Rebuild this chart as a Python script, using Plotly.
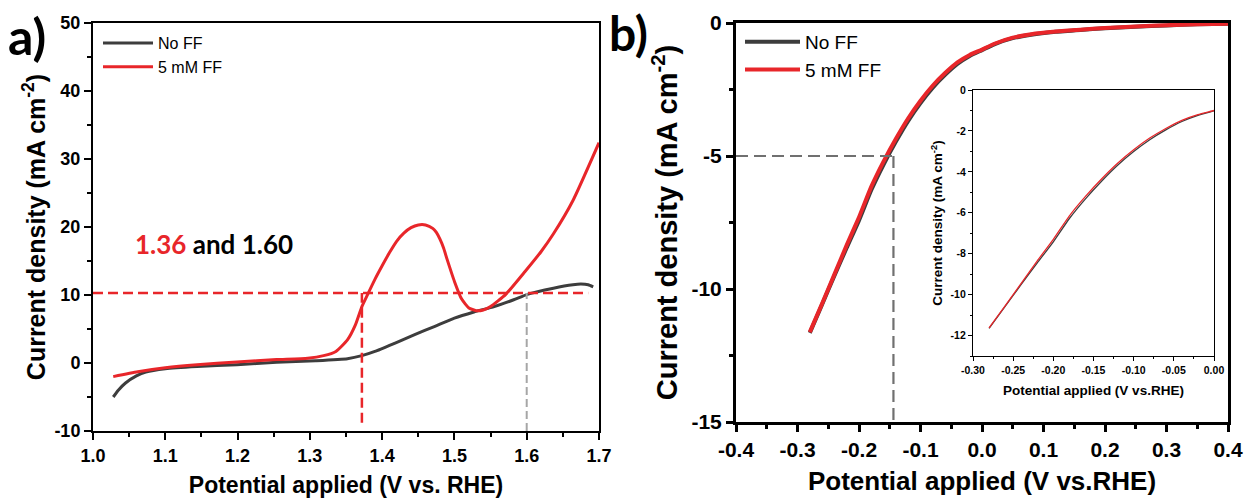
import plotly.graph_objects as go

# ---------------- data: panel a (anodic LSV) ----------------
a_nof_x = [1.028, 1.035, 1.045, 1.06, 1.073, 1.10, 1.144, 1.199, 1.254, 1.308, 1.352, 1.372,
           1.39, 1.418, 1.445, 1.473, 1.50, 1.527, 1.555, 1.582, 1.601, 1.637, 1.664, 1.675, 1.685, 1.692]
a_nof_y = [-5.0, -4.0, -2.94, -1.9, -1.32, -0.83, -0.5, -0.25, 0.1, 0.34, 0.64, 1.08,
           1.7, 2.94, 4.17, 5.4, 6.6, 7.5, 8.3, 9.3, 10.1, 11.0, 11.5, 11.6, 11.5, 11.2]

a_ff_x = [1.028, 1.062, 1.10, 1.144, 1.199, 1.254, 1.297, 1.319, 1.336, 1.352, 1.363, 1.372,
          1.38, 1.39, 1.40, 1.41, 1.42, 1.43, 1.44, 1.45, 1.46, 1.47, 1.475, 1.48, 1.485,
          1.49, 1.50, 1.51, 1.52, 1.53, 1.54, 1.55, 1.571, 1.598, 1.62, 1.637, 1.664, 1.70]
a_ff_y = [-2.0, -1.3, -0.7, -0.25, 0.15, 0.5, 0.7, 1.08, 1.7, 3.4, 5.6, 8.3,
          10.1, 12.3, 14.3, 16.2, 17.9, 19.1, 19.9, 20.3, 20.3, 19.8, 19.2, 18.2, 16.9,
          15.2, 12.0, 9.4, 8.1, 7.7, 7.8, 8.3, 10.1, 13.5, 16.4, 19.0, 23.9, 32.4]

a_target_j = 10.3          # mA cm-2 benchmark
a_onset_ff = 1.372         # V, with FF
a_onset_nof = 1.60         # V, without FF
a_xticks = [1.0, 1.1, 1.2, 1.3, 1.4, 1.5, 1.6, 1.7]
a_xtext = ["1.0", "1.1", "1.2", "1.3", "1.4", "1.5", "1.6", "1.7"]
a_yticks = [-10, 0, 10, 20, 30, 40, 50]
a_ytext = ["-10", "0", "10", "20", "30", "40", "50"]

# ---------------- data: panel b (cathodic LSV) ----------------
b_x = [-0.28, -0.26, -0.24, -0.22, -0.20, -0.18, -0.16, -0.14, -0.12, -0.10, -0.08, -0.06,
       -0.04, -0.02, 0.00, 0.02, 0.05, 0.08, 0.12, 0.16, 0.20, 0.25, 0.30, 0.35, 0.40]
b_ff_y = [-11.62, -10.55, -9.45, -8.35, -7.30, -6.15, -5.20, -4.35, -3.58, -2.92, -2.35, -1.88,
          -1.48, -1.20, -1.00, -0.78, -0.55, -0.42, -0.32, -0.25, -0.19, -0.13, -0.08, -0.05, -0.03]
b_nof_y = [-11.65, -10.58, -9.50, -8.45, -7.42, -6.28, -5.32, -4.46, -3.68, -3.01, -2.43, -1.95,
           -1.54, -1.24, -1.02, -0.80, -0.57, -0.44, -0.33, -0.26, -0.20, -0.14, -0.09, -0.05, -0.03]

b_target_j = -5.0
b_onset = -0.144
b_xticks = [-0.4, -0.3, -0.2, -0.1, 0.0, 0.1, 0.2, 0.3, 0.4]
b_xtext = ["-0.4", "-0.3", "-0.2", "-0.1", "0.0", "0.1", "0.2", "0.3", "0.4"]
b_yticks = [-15, -10, -5, 0]
b_ytext = ["-15", "-10", "-5", "0"]

inset_xticks = [-0.30, -0.25, -0.20, -0.15, -0.10, -0.05, 0.00]
inset_xtext = ["-0.30", "-0.25", "-0.20", "-0.15", "-0.10", "-0.05", "0.00"]
inset_yticks = [-12, -10, -8, -6, -4, -2, 0]
inset_ytext = ["-12", "-10", "-8", "-6", "-4", "-2", "0"]

# ---------------- styling ----------------
GREY = "#3d3d3d"
RED = "#e8262a"
FONT = "Liberation Sans"
W, H = 1246, 499
SPL = dict(shape="spline", smoothing=0.5)

fig = go.Figure()

# panel a curves
fig.add_trace(go.Scatter(x=a_nof_x, y=a_nof_y, mode="lines", name="No FF",
                         line=dict(color=GREY, width=3, **SPL),
                         xaxis="x", yaxis="y", legend="legend"))
fig.add_trace(go.Scatter(x=a_ff_x, y=a_ff_y, mode="lines", name="5 mM FF",
                         line=dict(color=RED, width=3, **SPL),
                         xaxis="x", yaxis="y", legend="legend"))

# panel b curves
fig.add_trace(go.Scatter(x=b_x, y=b_nof_y, mode="lines", name="No FF",
                         line=dict(color=GREY, width=4, **SPL),
                         xaxis="x2", yaxis="y2", legend="legend2"))
fig.add_trace(go.Scatter(x=b_x, y=b_ff_y, mode="lines", name="5 mM FF",
                         line=dict(color=RED, width=4, **SPL),
                         xaxis="x2", yaxis="y2", legend="legend2"))

# inset (zoom of panel b)
fig.add_trace(go.Scatter(x=b_x, y=b_nof_y, mode="lines", showlegend=False,
                         line=dict(color=GREY, width=1.3, **SPL),
                         xaxis="x3", yaxis="y3"))
fig.add_trace(go.Scatter(x=b_x, y=b_ff_y, mode="lines", showlegend=False,
                         line=dict(color=RED, width=1.3, **SPL),
                         xaxis="x3", yaxis="y3"))

# guide lines
shapes = [
    dict(type="line", xref="x", yref="y", x0=1.0, x1=1.685, y0=a_target_j, y1=a_target_j,
         line=dict(color=RED, width=2.5, dash="10px,5px")),
    dict(type="line", xref="x", yref="y", x0=a_onset_ff, x1=a_onset_ff, y0=-8.8, y1=a_target_j,
         line=dict(color=RED, width=2.5, dash="10px,5px")),
    dict(type="line", xref="x", yref="y", x0=a_onset_nof, x1=a_onset_nof, y0=-10, y1=a_target_j,
         line=dict(color="#a6a6a6", width=2, dash="8px,4px")),
    dict(type="line", xref="x2", yref="y2", x0=-0.4, x1=b_onset, y0=b_target_j, y1=b_target_j,
         line=dict(color="#707070", width=2.2, dash="12px,6px")),
    dict(type="line", xref="x2", yref="y2", x0=b_onset, x1=b_onset, y0=b_target_j, y1=-15,
         line=dict(color="#707070", width=2.2, dash="12px,6px")),
]

def axis(domain, rng, tickvals, ticktext, minor_dtick, size, lw, anchor, title, tsize,
         standoff, tlen=7, mlen=4):
    return dict(domain=domain, range=rng, anchor=anchor, automargin=False, tickmode="array",
                tickvals=tickvals, ticktext=ticktext, ticks="outside", ticklen=tlen,
                tickwidth=lw, tickcolor="black", showline=True, linecolor="black",
                linewidth=lw, mirror=True, showgrid=False, zeroline=False,
                minor=dict(ticks="outside", dtick=minor_dtick, ticklen=mlen,
                           tickwidth=lw, tickcolor="black", showgrid=False),
                tickfont=dict(family=FONT, size=size, color="black", weight="bold"),
                title=dict(text=title, standoff=standoff,
                           font=dict(family=FONT, size=tsize, color="black", weight="bold")))

ytitle = "Current density (mA cm<sup>-2</sup>)"

layout = dict(
    width=W, height=H, autosize=False,
    margin=dict(l=0, r=0, t=0, b=0, autoexpand=False),
    paper_bgcolor="white", plot_bgcolor="white",
    xaxis=axis([93 / W, 599 / W], [1.0, 1.7], a_xticks, a_xtext, 0.05, 18, 2, "y",
               "Potential applied (V vs. RHE)", 23, 12),
    yaxis=axis([1 - 431 / H, 1 - 23 / H], [-10, 50], a_yticks, a_ytext, 5, 18, 2, "x",
               ytitle, 25, 2),
    xaxis2=axis([736 / W, 1228 / W], [-0.4, 0.4], b_xticks, b_xtext, 0.05, 21, 3, "y2",
                "Potential applied (V vs.RHE)", 26, 12),
    yaxis2=axis([1 - 422 / H, 1 - 23 / H], [-15, 0], b_yticks, b_ytext, 2.5, 21, 3, "x2",
                ytitle, 29, 6),
    xaxis3=axis([973 / W, 1214 / W], [-0.30, 0.0], inset_xticks, inset_xtext, 0.025, 10.5, 1.2,
                "y3", "Potential applied (V vs.RHE)", 13.5, 10, tlen=4, mlen=2),
    yaxis3=axis([1 - 356 / H, 1 - 90 / H], [-13, 0], inset_yticks, inset_ytext, 1, 10.5, 1.2,
                "x3", ytitle, 13.5, 4, tlen=4, mlen=2),
    legend=dict(x=98 / W, y=1 - 26 / H, xanchor="left", yanchor="top",
                bgcolor="rgba(0,0,0,0)", itemwidth=50, tracegroupgap=0,
                font=dict(family=FONT, size=16, color="black")),
    legend2=dict(x=740 / W, y=1 - 23 / H, xanchor="left", yanchor="top",
                 bgcolor="rgba(0,0,0,0)", itemwidth=55, tracegroupgap=0,
                 font=dict(family=FONT, size=19, color="black")),
    shapes=shapes,
    annotations=[
        dict(text="a)", x=6 / W, y=1 - 36 / H, xref="paper", yref="paper", xanchor="left",
             yanchor="middle", showarrow=False,
             font=dict(family="Lato", size=50, color="black", weight="bold")),
        dict(text="b)", x=607 / W, y=1 - 33 / H, xref="paper", yref="paper", xanchor="left",
             yanchor="middle", showarrow=False,
             font=dict(family="Lato", size=48, color="black", weight="bold")),
        dict(text="<span style='color:%s'>1.36</span> and 1.60" % RED, x=1.055, y=17.5,
             xref="x", yref="y", xanchor="left", yanchor="middle", showarrow=False,
             font=dict(family="Lato", size=26, color="black", weight="bold")),
    ],
)
fig.update_layout(**layout)
fig.write_html("out.html")
